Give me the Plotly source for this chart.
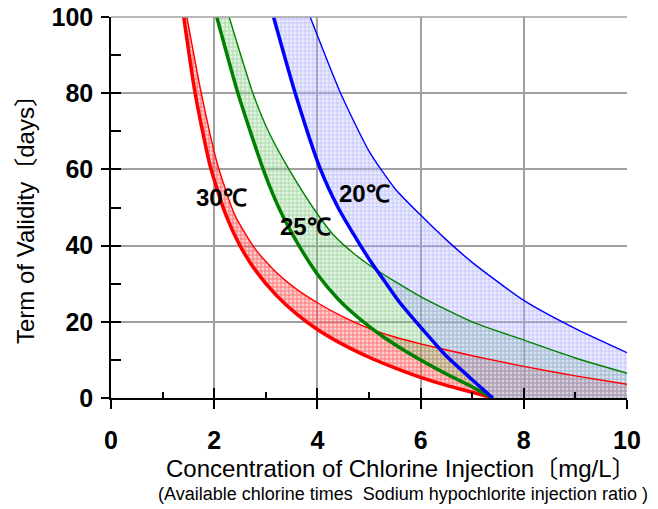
import plotly.graph_objects as go

# ---- data ----
X_MAX = 10
Y_MAX = 100

red_low_x = [1.41, 1.63, 1.92, 2.2, 2.5, 2.8, 3.2, 3.6, 4.0, 4.5, 5.0, 5.5, 6.0, 6.5, 7.0, 7.4]
red_low_y = [100, 80, 61, 49, 40, 33.5, 27, 22, 18, 14, 10.7, 7.9, 5.4, 3.3, 1.5, 0]
red_up_x = [1.47, 1.75, 2.05, 2.4, 2.8, 3.2, 3.6, 4.0, 4.5, 5.0, 5.5, 6.0, 7.0, 8.0, 9.0, 10.0]
red_up_y = [100, 80, 62, 48, 39, 33, 28.5, 25, 21.3, 18.3, 16, 14.2, 11.1, 8.3, 5.8, 3.6]

green_low_x = [2.05, 2.46, 2.95, 3.25, 3.6, 4.0, 4.4, 4.8, 5.2, 5.6, 6.0, 6.5, 7.0, 7.4]
green_low_y = [100, 80, 60, 50, 41, 32.5, 26, 21, 16.8, 13.2, 10, 6.3, 2.9, 0]
green_up_x = [2.29, 2.75, 3.05, 3.45, 4.0, 4.3, 4.7, 5.1, 6.0, 7.0, 8.0, 9.0, 10.0]
green_up_y = [100, 80, 70, 60, 48.3, 43, 38, 34, 26.6, 20, 15.2, 10.5, 6.5]

blue_low_x = [3.15, 3.57, 4.06, 4.4, 4.7, 5.0, 5.3, 5.6, 6.0, 6.5, 7.0, 7.4]
blue_low_y = [100, 80, 60, 50, 43, 36.5, 30.7, 25, 18.6, 11, 4.8, 0]
blue_up_x = [3.86, 4.45, 5.0, 5.5, 6.0, 6.5, 7.0, 8.0, 9.0, 10.0]
blue_up_y = [100, 80, 64.8, 55, 48, 41.5, 35.6, 25.6, 18.2, 11.9]

labels = ["30℃", "25℃", "20℃"]
label_x = [2.14, 3.76, 4.91]
label_y = [52.5, 44.9, 53.8]

x_ticks = [0, 2, 4, 6, 8, 10]
y_ticks = [0, 20, 40, 60, 80, 100]

series = [
    dict(lx=red_low_x, ly=red_low_y, ux=red_up_x, uy=red_up_y, color="#ff0000",
         fg="rgba(255,0,0,0.85)", bg="rgba(255,150,150,0.45)"),
    dict(lx=green_low_x, ly=green_low_y, ux=green_up_x, uy=green_up_y, color="#008000",
         fg="rgba(0,140,0,0.45)", bg="rgba(170,220,170,0.35)"),
    dict(lx=blue_low_x, ly=blue_low_y, ux=blue_up_x, uy=blue_up_y, color="#0000ff",
         fg="rgba(90,90,255,0.5)", bg="rgba(200,200,255,0.35)"),
]

fig = go.Figure()

# hatched bands
for s in series:
    fig.add_trace(go.Scatter(
        x=s["lx"] + [X_MAX], y=s["ly"] + [0], mode="lines",
        line=dict(width=0, shape="spline", smoothing=0.6), hoverinfo="skip", showlegend=False))
    fig.add_trace(go.Scatter(
        x=s["ux"], y=s["uy"], mode="lines", fill="tonexty",
        fillpattern=dict(shape="+", fgcolor=s["fg"], bgcolor=s["bg"], size=4, solidity=0.45),
        line=dict(width=0, shape="spline", smoothing=0.6), hoverinfo="skip", showlegend=False))

# curves
for s in series:
    fig.add_trace(go.Scatter(x=s["ux"], y=s["uy"], mode="lines",
                             line=dict(color=s["color"], width=1.4, shape="spline", smoothing=0.6),
                             showlegend=False))
    fig.add_trace(go.Scatter(x=s["lx"], y=s["ly"], mode="lines",
                             line=dict(color=s["color"], width=3.5, shape="spline", smoothing=0.6),
                             showlegend=False))

# invisible trace for overlay axes (inner tick marks)
fig.add_trace(go.Scatter(x=[0], y=[0], xaxis="x2", yaxis="y2", mode="markers",
                         marker=dict(opacity=0), showlegend=False, hoverinfo="skip"))

for t, lx, ly in zip(labels, label_x, label_y):
    fig.add_annotation(x=lx, y=ly, text="<b>" + t + "</b>", showarrow=False,
                       font=dict(family="Liberation Sans, Arial, sans-serif", size=24, color="black"),
                       xanchor="center", yanchor="middle")

tickfont = dict(family="Liberation Sans, Arial, sans-serif", size=25, color="black")

W, H = 658, 509
ML, MR, MT, MB = 111, 31, 17, 111

fig.update_layout(
    width=W, height=H, autosize=False,
    margin=dict(l=ML, r=MR, t=MT, b=MB, pad=0),
    plot_bgcolor="white", paper_bgcolor="white",
    xaxis=dict(range=[0, X_MAX], tickvals=x_ticks, ticktext=["<b>%d</b>" % v for v in x_ticks],
               showgrid=True, gridcolor="#a0a0a0", gridwidth=1.5, automargin=False,
               showline=True, linecolor="black", linewidth=1.5, zeroline=False,
               ticks="outside", ticklen=9, tickwidth=1.5, tickcolor="black",
               tickfont=tickfont, ticklabelstandoff=10, ticklabeloverflow="allow"),
    yaxis=dict(range=[0, Y_MAX], tickvals=y_ticks, ticktext=["<b>%d</b>" % v for v in y_ticks],
               showgrid=True, gridcolor="#a0a0a0", gridwidth=1.5, automargin=False,
               showline=True, linecolor="black", linewidth=1.5, zeroline=False,
               ticks="outside", ticklen=8, tickwidth=1.5, tickcolor="black",
               tickfont=tickfont, ticklabelstandoff=3, ticklabeloverflow="allow"),
    xaxis2=dict(range=[0, X_MAX], overlaying="x", side="bottom", dtick=2, tick0=0, automargin=False,
                ticks="inside", ticklen=10, tickwidth=1.5, tickcolor="black",
                showticklabels=False, showgrid=False, zeroline=False, showline=False,
                minor=dict(dtick=1, ticks="inside", ticklen=6, tickwidth=1.5, tickcolor="black")),
    yaxis2=dict(range=[0, Y_MAX], overlaying="y", side="left", dtick=10, tick0=0, automargin=False,
                ticks="inside", ticklen=10, tickwidth=1.5, tickcolor="black",
                showticklabels=False, showgrid=False, zeroline=False, showline=False),
)

# gray frame edge at the top of the plot area (grid line at 100)
fig.add_shape(type="line", xref="paper", yref="paper", x0=0, x1=1, y0=1, y1=1,
              line=dict(color="#a0a0a0", width=1.5), layer="above")

pw = W - ML - MR
ph = H - MT - MB


def px_x(p):
    return (p - ML) / pw


def px_y(p):
    return (H - MB - p) / ph


fig.add_annotation(xref="paper", yref="paper", x=px_x(400.5), y=px_y(468),
                   text="Concentration of Chlorine Injection〔mg/L〕", showarrow=False,
                   xanchor="center", yanchor="middle",
                   font=dict(family="Liberation Sans, Arial, Noto Sans CJK JP, sans-serif", size=24, color="black"))
fig.add_annotation(xref="paper", yref="paper", x=px_x(402.5), y=px_y(494),
                   text="(Available chlorine times  Sodium hypochlorite injection ratio )", showarrow=False,
                   xanchor="center", yanchor="middle",
                   font=dict(family="Liberation Sans, Arial, sans-serif", size=18, color="black"))
fig.add_annotation(xref="paper", yref="paper", x=px_x(25), y=px_y(214),
                   text="Term of Validity〔days〕", showarrow=False, textangle=-90,
                   xanchor="center", yanchor="middle",
                   font=dict(family="Liberation Sans, Arial, Noto Sans CJK JP, sans-serif", size=24, color="black"))

fig.write_html("out.html", config={"displayModeBar": False},
               post_script="document.body.style.margin='0';")
